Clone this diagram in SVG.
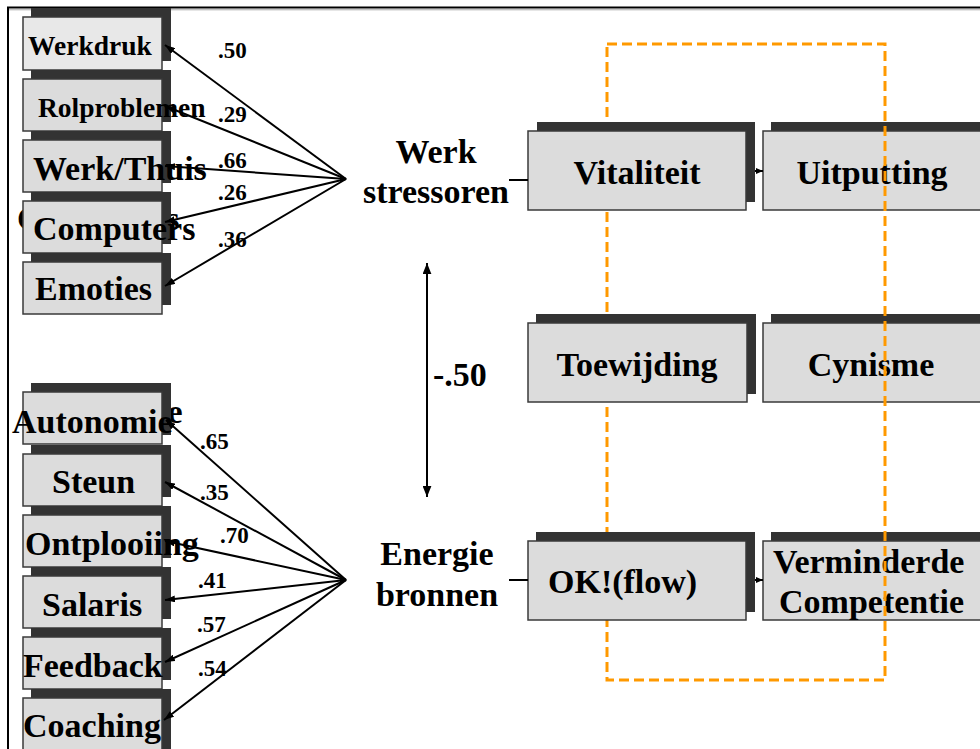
<svg xmlns="http://www.w3.org/2000/svg" width="980" height="749" viewBox="0 0 980 749">
<style>
text{font-family:"Liberation Serif","Times New Roman",serif;font-weight:bold;fill:#000}
.sh{fill:#333333}
.bx{fill:#dcdcdc;stroke:#3a3a3a;stroke-width:1.5}
.lbl{font-size:34px}
.num{font-size:23px}
.ln{stroke:#000;stroke-width:2;fill:none}
</style>
<defs>
<marker id="ah" viewBox="0 0 10 7" refX="10" refY="3.5" markerWidth="10" markerHeight="7" markerUnits="userSpaceOnUse" orient="auto-start-reverse"><path d="M0,0 L10,3.5 L0,7 z" fill="#000"/></marker>
<marker id="ahb" viewBox="0 0 10 8" refX="10" refY="4" markerWidth="11" markerHeight="9" markerUnits="userSpaceOnUse" orient="auto-start-reverse"><path d="M0,0 L10,4 L0,8 z" fill="#000"/></marker>
<marker id="ahs" viewBox="0 0 7 6" refX="7" refY="3" markerWidth="7" markerHeight="6" markerUnits="userSpaceOnUse" orient="auto"><path d="M0,0 L7,3 L0,6 z" fill="#000"/></marker>
</defs>
<rect width="980" height="749" fill="#fff"/>
<g id="frame">
<path d="M8,749 V7.5 H980" fill="none" stroke="#000" stroke-width="2"/>
<line x1="9" y1="9.8" x2="980" y2="9.8" stroke="#aaa" stroke-width="1"/>
</g>
<g id="ghosts">
<text class="lbl" x="17" y="230">Computers</text>
<text class="lbl" x="22" y="423">Autonomie</text>
</g>
<g id="n-werkdruk"><rect class="sh" x="31" y="8" width="140" height="53"/><rect class="bx" x="23" y="17" width="139" height="53" style="fill:#e8e8e8"/></g>
<g id="n-rolproblemen"><rect class="sh" x="31" y="70" width="140" height="52"/><rect class="bx" x="23" y="79" width="139" height="52"/></g>
<g id="n-werkthuis"><rect class="sh" x="31" y="131" width="140" height="52"/><rect class="bx" x="23" y="140" width="139" height="52"/></g>
<g id="n-computers"><rect class="sh" x="31" y="192" width="140" height="52"/><rect class="bx" x="23" y="201" width="139" height="52"/></g>
<g id="n-emoties"><rect class="sh" x="31" y="253" width="140" height="52"/><rect class="bx" x="23" y="262" width="139" height="52"/></g>
<g id="n-autonomie"><rect class="sh" x="31" y="383" width="140" height="52"/><rect class="bx" x="23" y="392" width="139" height="52"/></g>
<g id="n-steun"><rect class="sh" x="31" y="445" width="140" height="52"/><rect class="bx" x="23" y="454" width="139" height="52"/></g>
<g id="n-ontplooiing"><rect class="sh" x="31" y="506" width="140" height="52"/><rect class="bx" x="23" y="515" width="139" height="52"/></g>
<g id="n-salaris"><rect class="sh" x="31" y="567" width="140" height="52"/><rect class="bx" x="23" y="576" width="139" height="52"/></g>
<g id="n-feedback"><rect class="sh" x="31" y="628" width="140" height="52"/><rect class="bx" x="23" y="637" width="139" height="52"/></g>
<g id="n-coaching"><rect class="sh" x="31" y="689" width="140" height="60"/><rect class="bx" x="23" y="698" width="139" height="60"/></g>
<g id="n-uitputting"><rect class="sh" x="771" y="122" width="220" height="80"/><rect class="bx" x="763" y="131" width="230" height="79"/><text class="lbl" x="872" y="184" text-anchor="middle">Uitputting</text></g>
<g id="n-cynisme"><rect class="sh" x="771" y="314" width="220" height="80"/><rect class="bx" x="763" y="323" width="230" height="79"/><text class="lbl" x="871" y="376" text-anchor="middle">Cynisme</text></g>
<g id="n-verminderde"><rect class="sh" x="771" y="532" width="220" height="80"/><rect class="bx" x="763" y="541" width="230" height="79"/><text class="lbl" x="773" y="573">Verminderde</text><text class="lbl" x="779" y="613">Competentie</text></g>
<g id="focus">
<rect x="607" y="44" width="278" height="636" fill="none" stroke="#ff9900" stroke-width="3" stroke-dasharray="10 5"/>
</g>
<g id="n-vitaliteit"><rect class="sh" x="537" y="122" width="218" height="80"/><rect class="bx" x="528" y="131" width="218" height="79"/><text class="lbl" x="637" y="184" text-anchor="middle">Vitaliteit</text></g>
<g id="n-toewijding"><rect class="sh" x="536" y="314" width="220" height="80"/><rect class="bx" x="528" y="323" width="219" height="79"/><text class="lbl" x="637" y="376" text-anchor="middle">Toewijding</text></g>
<g id="n-ok"><rect class="sh" x="536" y="532" width="219" height="80"/><rect class="bx" x="528" y="541" width="218" height="79"/><text class="lbl" x="548" y="593">OK!(flow)</text></g>
<g id="connectors">
<line class="ln" x1="346" y1="179" x2="165" y2="45" marker-end="url(#ah)"/>
<line class="ln" x1="346" y1="179" x2="165" y2="106" marker-end="url(#ah)"/>
<line class="ln" x1="346" y1="179" x2="165" y2="166" marker-end="url(#ah)"/>
<line class="ln" x1="346" y1="179" x2="165" y2="222" marker-end="url(#ah)"/>
<line class="ln" x1="346" y1="179" x2="165" y2="286" marker-end="url(#ah)"/>
<line class="ln" x1="346" y1="580" x2="166" y2="420" marker-end="url(#ah)"/>
<line class="ln" x1="346" y1="580" x2="165" y2="482" marker-end="url(#ah)"/>
<line class="ln" x1="346" y1="580" x2="165" y2="541" marker-end="url(#ah)"/>
<line class="ln" x1="346" y1="580" x2="165" y2="600" marker-end="url(#ah)"/>
<line class="ln" x1="346" y1="580" x2="165" y2="662" marker-end="url(#ah)"/>
<line class="ln" x1="346" y1="580" x2="164" y2="720" marker-end="url(#ah)"/>
<path d="M340,176 L347,179 L340,182 z" fill="#000"/>
<path d="M340,577 L347,580 L340,583 z" fill="#000"/>
<line class="ln" x1="427" y1="263" x2="427" y2="497" stroke-width="3" marker-start="url(#ahb)" marker-end="url(#ahb)"/>
<line class="ln" x1="509" y1="180" x2="528" y2="180" stroke-width="2.5"/>
<line class="ln" x1="509" y1="580" x2="528" y2="580" stroke-width="2.5"/>
<line class="ln" x1="755" y1="171" x2="763" y2="171" marker-end="url(#ahs)"/>
<line class="ln" x1="755" y1="580" x2="763" y2="580" marker-end="url(#ahs)"/>
</g>
<g id="labels">
<text x="28" y="55" font-size="27.5px">Werkdruk</text>
<text x="38" y="117" font-size="27.5px">Rolproblemen</text>
<text class="lbl" x="33" y="180">Werk/Thuis</text>
<text class="lbl" x="33" y="240">Computers</text>
<text class="lbl" x="35" y="300" font-size="33px">Emoties</text>
<text class="lbl" x="12" y="433">Autonomie</text>
<text class="lbl" x="52" y="493" font-size="33px">Steun</text>
<text class="lbl" x="25" y="555">Ontplooiing</text>
<text class="lbl" x="42" y="616">Salaris</text>
<text class="lbl" x="23" y="677">Feedback</text>
<text class="lbl" x="23" y="737">Coaching</text>
<text class="lbl" x="436" y="163" text-anchor="middle" font-size="33.5px">Werk</text>
<text class="lbl" x="436" y="203" text-anchor="middle">stressoren</text>
<text class="lbl" x="437" y="565" text-anchor="middle">Energie</text>
<text class="lbl" x="437" y="606" text-anchor="middle" font-size="33.5px">bronnen</text>
<text class="lbl" x="433" y="386" font-size="26px">-.50</text>
</g>
<g id="coefficients">
<text class="num" x="218" y="58">.50</text>
<text class="num" x="218" y="122">.29</text>
<text class="num" x="218" y="168">.66</text>
<text class="num" x="218" y="200">.26</text>
<text class="num" x="218" y="247">.36</text>
<text class="num" x="200" y="449">.65</text>
<text class="num" x="200" y="500">.35</text>
<text class="num" x="220" y="543">.70</text>
<text class="num" x="198" y="588">.41</text>
<text class="num" x="197" y="632">.57</text>
<text class="num" x="198" y="676">.54</text>
</g>
</svg>
